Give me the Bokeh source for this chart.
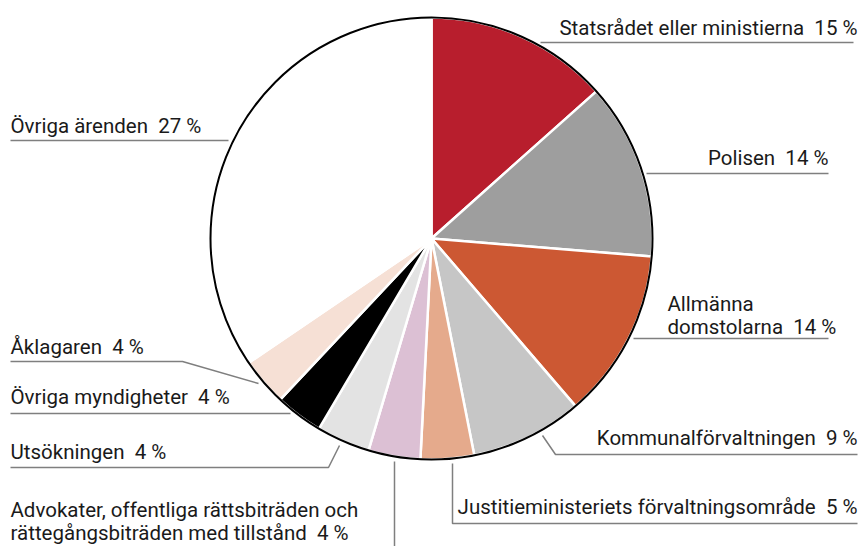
import numpy as np
from bokeh.plotting import figure
from bokeh.models import Range1d, ColumnDataSource
from bokeh.core.properties import value
from bokeh.embed import file_html
from bokeh.resources import INLINE

categories = [
    "Statsrådet eller ministierna",
    "Polisen",
    "Allmänna domstolarna",
    "Kommunalförvaltningen",
    "Justitieministeriets förvaltningsområde",
    "Advokater, offentliga rättsbiträden och rättegångsbiträden med tillstånd",
    "Utsökningen",
    "Övriga myndigheter",
    "Åklagaren",
    "Övriga ärenden",
]
shares = [13.4, 12.9, 12.4, 8.2, 3.9, 3.8, 3.9, 3.5, 3.5, 34.5]
pct_labels = [15, 14, 14, 9, 5, 4, 4, 4, 4, 27]
colors = ["#B81E2D", "#9E9E9E", "#CC5833", "#C6C6C6", "#E5AA8C",
          "#DCC0D4", "#E3E3E3", "#000000", "#F6E0D5", "#FFFFFF"]

W, H = 860, 546
FONT = value("Roboto")
FS = "20.5px"
LC = "#7f7f7f"
SP = "\u00a0\u00a0"
DY = -6  # baseline correction

def Y(y):  # reference (top-down pixel) y -> data y
    return H - y

p = figure(width=W, height=H, output_backend="svg", toolbar_location=None,
           x_range=Range1d(0, W), y_range=Range1d(0, H),
           min_border=0, x_axis_location=None, y_axis_location=None)
p.grid.visible = False
p.outline_line_color = None
p.background_fill_color = "white"

cx, cy, r = 431, Y(238), 221
frac = np.array(shares) / np.sum(shares)
c1 = np.cumsum(frac)
c0 = c1 - frac
src = ColumnDataSource(dict(
    start=np.pi / 2 - 2 * np.pi * c0,
    end=np.pi / 2 - 2 * np.pi * c1,
    color=colors,
    cat=categories,
))
p.wedge(x=cx, y=cy, radius=r, start_angle="start", end_angle="end",
        direction="clock", fill_color="color", line_color="white",
        line_width=2.5, source=src)
p.circle(x=cx, y=cy, radius=r, fill_color=None, line_color="black", line_width=2)

# ---- label texts (layout) ----
def lab(c, pct):
    return f"{c}{SP}{pct} %"

texts = []  # (x, y, text, align)
texts.append((857, 33, lab(categories[0], pct_labels[0]), "right"))
texts.append((828, 163, lab(categories[1], pct_labels[1]), "right"))
texts.append((667, 309, "Allmänna", "left"))
texts.append((667, 332, lab("domstolarna", pct_labels[2]), "left"))
texts.append((857, 443, lab(categories[3], pct_labels[3]), "right"))
texts.append((857, 512, lab(categories[4], pct_labels[4]), "right"))
texts.append((10, 515, "Advokater, offentliga rättsbiträden och", "left"))
texts.append((10, 538, lab("rättegångsbiträden med tillstånd", pct_labels[5]), "left"))
texts.append((10, 457, lab(categories[6], pct_labels[6]), "left"))
texts.append((10, 402, lab(categories[7], pct_labels[7]), "left"))
texts.append((10, 352, lab(categories[8], pct_labels[8]), "left"))
texts.append((10, 131, lab(categories[9], pct_labels[9]), "left"))

for al in ("left", "right"):
    sub = [t for t in texts if t[3] == al]
    p.text(x=[t[0] for t in sub], y=[Y(t[1] + DY) for t in sub], text=[t[2] for t in sub],
           text_align=al, text_baseline="alphabetic", text_font=FONT,
           text_font_size=FS, text_color="#1a1a1a")

# ---- leader lines (layout) ----
leaders = [
    [(540, 42), (853, 42)],
    [(646, 173), (828, 173)],
    [(633, 338), (828, 338)],
    [(542, 435), (555, 454), (857, 454)],
    [(452, 463), (452, 523), (857, 523)],
    [(394, 461), (394, 546)],
    [(339, 445), (328, 467), (10, 467)],
    [(290, 413), (10, 413)],
    [(258, 383), (182, 361), (10, 361)],
    [(228, 140), (10, 140)],
]
p.multi_line(xs=[[pt[0] for pt in l] for l in leaders],
             ys=[[Y(pt[1]) for pt in l] for l in leaders],
             line_color=LC, line_width=1.5)

open("out.html", "w").write(file_html(p, INLINE))
